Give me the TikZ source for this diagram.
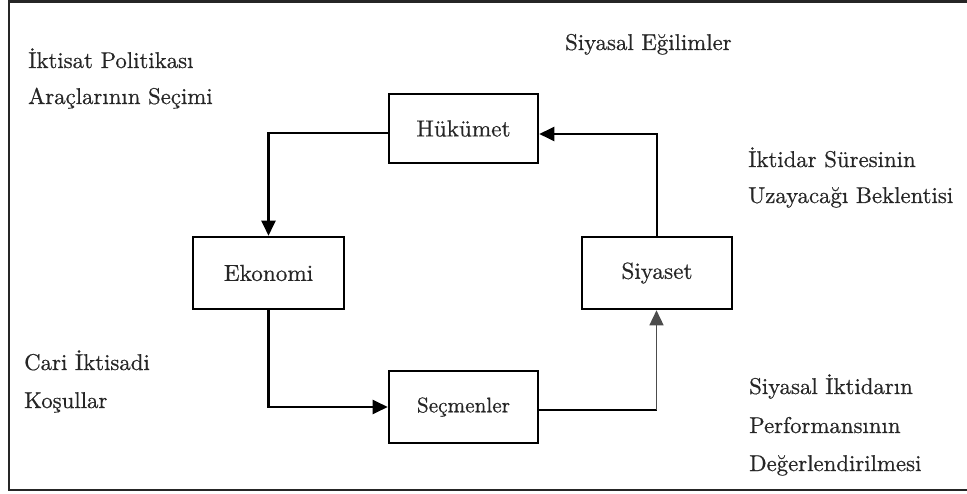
\documentclass[tikz,border=0pt]{standalone}
\usepackage{fontspec}
\newfontfamily\lmf{lmroman10-regular.otf}[FakeBold=0.6]
\usetikzlibrary{arrows.meta}
\tikzset{
  box/.style={draw=black, line width=2.6pt, rectangle, inner sep=0pt,
    font=\lmf\fontsize{23.2}{28}\selectfont, text=black!85},
  lbl/.style={anchor=base west, inner sep=0pt,
    font=\lmf\fontsize{22.8}{28}\selectfont, text=black!85},
  conn/.style={draw=black, line width=2.4pt},
  tip/.style={-{Triangle[length=15pt,width=14pt]}},
}
\begin{document}
\begin{tikzpicture}[x=1pt,y=-1pt]
\useasboundingbox (0,0) rectangle (967,494);
% outer frame (right side outside the picture)
\draw[line width=2.2pt, draw=black!85] (975,1.5) -- (9,1.5) -- (9,490) -- (975,490);

% boxes
\node[box, minimum width=149pt, minimum height=69pt] (huk) at (463.5,128.5) {Hükümet};
\node[box, minimum width=151pt, minimum height=72pt] (eko) at (268.5,273) {Ekonomi};
\node[box, minimum width=150pt, minimum height=72pt] (siy) at (657,273) {Siyaset};
\node[box, minimum width=149pt, minimum height=72pt, font=\lmf\fontsize{21.2}{26}\selectfont] (sec) at (463.5,407) {Seçmenler};

% connectors
\draw[conn, tip] ([yshift=-4.5pt]huk.west) -| (eko.north);
\draw[conn, tip] (eko.south) |- (sec.west);
\coordinate (c3) at (656.5,410);
\draw[conn] ([yshift=-3pt]sec.east) -- (c3);
\draw[draw=black!70, line width=1.5pt, tip] (c3) -- (siy.south -| c3);
\draw[conn, tip] (siy.north) |- ([yshift=-5.5pt]huk.east);

% labels
\node[lbl] (a1) at (28,68) {İktisat Politikası};
\node[lbl] (a2) at (28,104) {Araçlarının Seçimi};
\node[lbl] (b1) at (565,50) {Siyasal Eğilimler};
\node[lbl] (c1) at (748,167) {İktidar Süresinin};
\node[lbl] (c2) at (748,203) {Uzayacağı Beklentisi};
\node[lbl] (d1) at (24,370) {Cari İktisadi};
\node[lbl] (d2) at (24,408) {Koşullar};
\node[lbl] (e1) at (749,394) {Siyasal İktidarın};
\node[lbl] (e2) at (749,433) {Performansının};
\node[lbl] (e3) at (749,471) {Değerlendirilmesi};
\end{tikzpicture}
\end{document}
